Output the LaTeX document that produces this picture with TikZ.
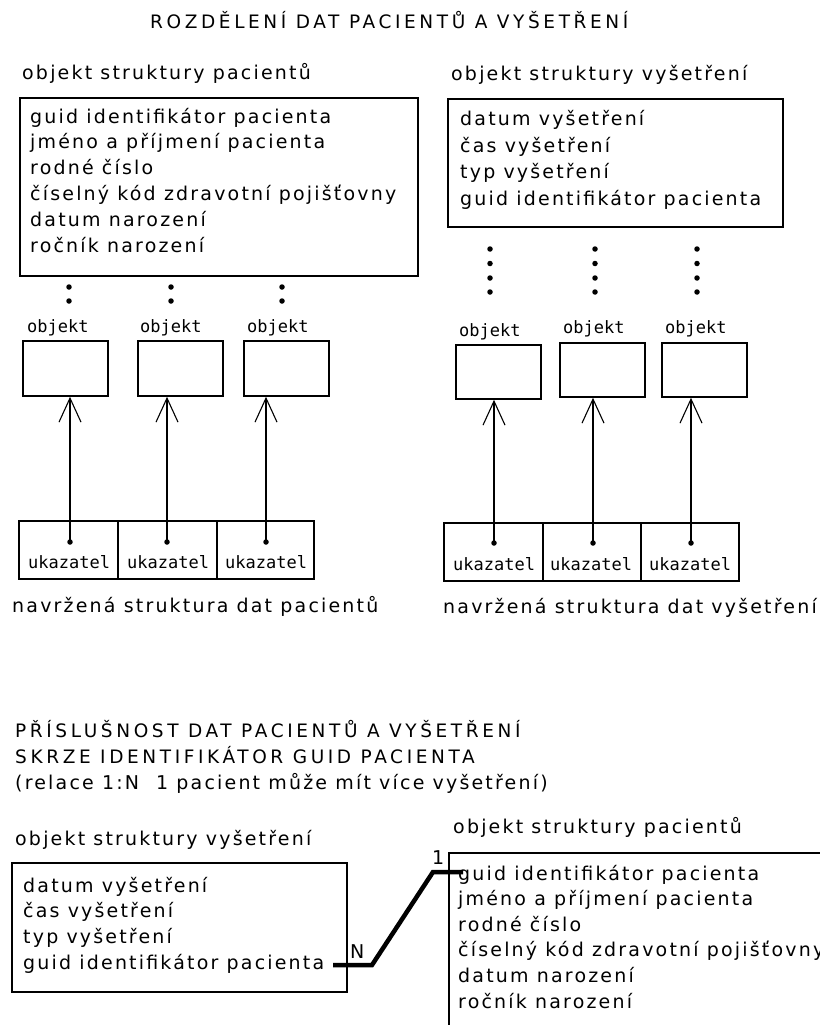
\documentclass[tikz,border=0pt]{standalone}
\usepackage{fontspec}
\setmainfont{DejaVu Sans}[LetterSpace=11.5]
\newfontfamily\capsfont{DejaVu Sans}[LetterSpace=19.5]
\newfontfamily\cellfont{DejaVu Sans Mono}
\usetikzlibrary{arrows.meta}

\tikzset{
  lbl/.style={anchor=base west, inner sep=0pt, font=\fontsize{19}{26}\selectfont},
  heading/.style={anchor=base west, inner sep=0pt,
    font=\capsfont\fontsize{18.5}{26}\selectfont},
  celltext/.style={anchor=base west, inner sep=0pt, font=\cellfont\fontsize{17}{20}\selectfont},
  bx/.style 2 args={draw, line width=1.6pt, inner sep=0pt,
    minimum width=#1pt, minimum height=#2pt},
  ptr/.style={line width=1.6pt,
    -{Straight Barb[length=24pt,width=22pt,line width=1.1pt]}},
  relation/.style={line width=4.5pt, line join=miter},
  dot/.style={circle, fill, inner sep=0pt, minimum size=5.5pt},
}

\begin{document}
\begin{tikzpicture}[x=1pt, y=-1pt]
\useasboundingbox (0,0) rectangle (819,1025);

% ---------- top: splitting of patient and examination data ----------
\node[heading] (title) at (150,29) {ROZDĚLENÍ DAT PACIENTŮ A VYŠETŘENÍ};

% patient structure object
\node[lbl] (pcap) at (22,80) {objekt struktury pacientů};
\node[bx={398}{178}] (pbox) at (219,187) {};
\foreach \t [count=\i] in {guid identifikátor pacienta,
    jméno a příjmení pacienta, rodné číslo,
    číselný kód zdravotní pojišťovny, datum narození, ročník narození}
  \node[lbl] (pf\i) at (30,{123+(\i-1)*25.8}) {\t};

% examination structure object
\node[lbl] (ecap) at (451,81) {objekt struktury vyšetření};
\node[bx={335}{128}] (ebox) at (615.5,163) {};
\foreach \t [count=\i] in {datum vyšetření, čas vyšetření, typ vyšetření,
    guid identifikátor pacienta}
  \node[lbl] (ef\i) at (460,{125.5+(\i-1)*26.6}) {\t};

% continuation dots (patients)
\foreach \x/\n in {69/a,171/b,282/c}{
  \node[dot] (pd\n1) at (\x,287) {};
  \node[dot] (pd\n2) at (\x,301) {};
}
% continuation dots (examinations)
\foreach \x/\n in {490/a,595/b,697/c}{
  \node[dot] (ed\n1) at (\x,249) {};
  \node[dot] (ed\n2) at (\x,263.5) {};
  \node[dot] (ed\n3) at (\x,278) {};
  \node[dot] (ed\n4) at (\x,292) {};
}

% patient objects
\node[celltext] (pol1) at (27,332) {objekt};
\node[celltext] (pol2) at (140,332) {objekt};
\node[celltext] (pol3) at (247,332) {objekt};
\node[bx={85}{55}] (po1) at (65.5,368.5) {};
\node[bx={85}{55}] (po2) at (180.5,368.5) {};
\node[bx={85}{55}] (po3) at (286.5,368.5) {};

% examination objects
\node[celltext] (eol1) at (459,336) {objekt};
\node[celltext] (eol2) at (563,333) {objekt};
\node[celltext] (eol3) at (665,333) {objekt};
\node[bx={85}{54}] (eo1) at (498.5,372) {};
\node[bx={85}{54}] (eo2) at (602.5,370) {};
\node[bx={85}{54}] (eo3) at (704.5,370) {};

% patient pointer array
\node[bx={99}{58}] (pc1) at (68.5,550) {};
\node[bx={99}{58}] (pc2) at (167.5,550) {};
\node[bx={97}{58}] (pc3) at (265.5,550) {};
\node[celltext] (pu1) at (28,568) {ukazatel};
\node[celltext] (pu2) at (127,568) {ukazatel};
\node[celltext] (pu3) at (225,568) {ukazatel};
\node[dot] (pp1) at (70,542) {};
\node[dot] (pp2) at (167,542) {};
\node[dot] (pp3) at (266,542) {};
\draw[ptr] (pp1.center) -- (pp1 |- po1.south);
\draw[ptr] (pp2.center) -- (pp2 |- po2.south);
\draw[ptr] (pp3.center) -- (pp3 |- po3.south);
\node[lbl] (pnote) at (12,612) {navržená struktura dat pacientů};

% examination pointer array
\node[bx={99}{58}] (ec1) at (493.5,552) {};
\node[bx={98}{58}] (ec2) at (592,552) {};
\node[bx={98}{58}] (ec3) at (690,552) {};
\node[celltext] (eu1) at (453,570) {ukazatel};
\node[celltext] (eu2) at (550,570) {ukazatel};
\node[celltext] (eu3) at (649,570) {ukazatel};
\node[dot] (ep1) at (494,543) {};
\node[dot] (ep2) at (593,543) {};
\node[dot] (ep3) at (691,543) {};
\draw[ptr] (ep1.center) -- (ep1 |- eo1.south);
\draw[ptr] (ep2.center) -- (ep2 |- eo2.south);
\draw[ptr] (ep3.center) -- (ep3 |- eo3.south);
\node[lbl] (enote) at (443,613) {navržená struktura dat vyšetření};

% ---------- bottom: 1:N relation through the patient guid ----------
\node[heading] (rtitle1) at (15,737) {PŘÍSLUŠNOST DAT PACIENTŮ A VYŠETŘENÍ};
\node[heading] (rtitle2) at (15,763) {SKRZE IDENTIFIKÁTOR GUID PACIENTA};
\node[lbl] (rnote) at (15,789) {(relace 1:N\hspace{17pt}1 pacient může mít více vyšetření)};

\node[lbl] (e2cap) at (15,845) {objekt struktury vyšetření};
\node[bx={335}{129}] (e2box) at (179.5,927.5) {};
\foreach \t [count=\i] in {datum vyšetření, čas vyšetření, typ vyšetření,
    guid identifikátor pacienta}
  \node[lbl] (e2f\i) at (23,{892+(\i-1)*25.7}) {\t};

\node[lbl] (p2cap) at (453,833) {objekt struktury pacientů};
\node[bx={401}{207}] (p2box) at (649.5,956.5) {};
\foreach \t [count=\i] in {guid identifikátor pacienta,
    jméno a příjmení pacienta, rodné číslo,
    číselný kód zdravotní pojišťovny, datum narození, ročník narození}
  \node[lbl] (p2f\i) at (458,{880+(\i-1)*25.6}) {\t};

% relation line from the examination's guid to the patient's guid
\coordinate (rN) at (333,965);
\coordinate (rNk) at (372,965);
\coordinate (r1k) at (433,872);
\coordinate (r1) at (463,872);
\draw[relation] (rN) -- (rNk) -- (r1k) -- (r1);
\node[lbl] (nN) at (350,958) {N};
\node[lbl] (n1) at (432,864) {1};

\end{tikzpicture}
\end{document}
